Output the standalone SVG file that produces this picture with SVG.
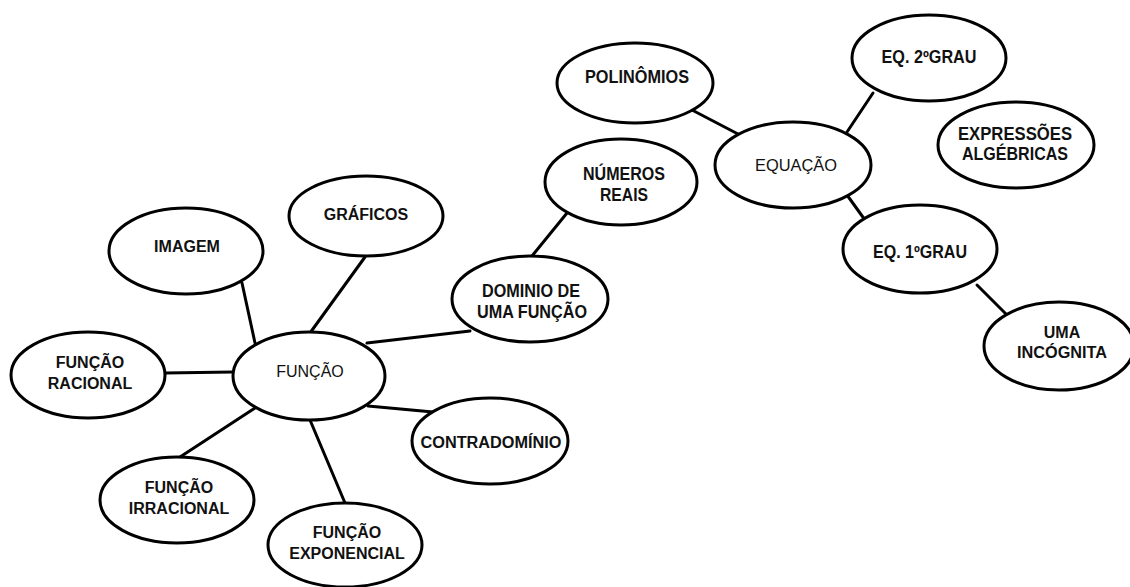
<svg xmlns="http://www.w3.org/2000/svg" width="1130" height="587" viewBox="0 0 1130 587">
  <style>
    .node ellipse { fill: #ffffff; stroke: #000000; stroke-width: 3; }
    .edges line { stroke: #000000; stroke-width: 3; stroke-linecap: round; }
    text { font-family: "Liberation Sans", Arial, sans-serif; font-size: 16px; fill: #111111; text-anchor: middle; dominant-baseline: central; }
    .b { font-weight: bold; }
    .n { font-weight: bold; font-size: 18px; }
  </style>
  <rect width="1130" height="587" fill="#ffffff"/>

  <!-- connectors -->
  <g class="edges">
    <line x1="255" y1="343" x2="242" y2="283"/>
    <line x1="310" y1="333" x2="365" y2="257"/>
    <line x1="165" y1="373" x2="233" y2="372"/>
    <line x1="255" y1="408" x2="180" y2="457"/>
    <line x1="310" y1="420" x2="345" y2="503"/>
    <line x1="368" y1="406" x2="433" y2="412"/>
    <line x1="367" y1="343" x2="470" y2="331"/>
    <line x1="532" y1="256" x2="567" y2="213"/>
    <line x1="692" y1="110" x2="738" y2="134"/>
    <line x1="847" y1="132" x2="873" y2="93"/>
    <line x1="847" y1="195" x2="865" y2="220"/>
    <line x1="977" y1="285" x2="1007" y2="315"/>
  </g>

  <!-- FUNÇÃO cluster -->
  <g id="graficos" class="node">
    <ellipse cx="366" cy="216" rx="77" ry="40"/>
    <text class="b" x="366" y="214">GRÁFICOS</text>
  </g>
  <g id="imagem" class="node">
    <ellipse cx="186" cy="251" rx="77" ry="43"/>
    <text class="b" x="187" y="246">IMAGEM</text>
  </g>
  <g id="funcao-racional" class="node">
    <ellipse cx="88" cy="375" rx="77" ry="43"/>
    <text class="b" x="90" y="362">FUNÇÃO</text>
    <text class="b" x="90" y="383">RACIONAL</text>
  </g>
  <g id="funcao" class="node">
    <ellipse cx="309" cy="376" rx="76" ry="44"/>
    <text x="310" y="371" font-size="17">FUNÇÃO</text>
  </g>
  <g id="funcao-irracional" class="node">
    <ellipse cx="177" cy="500" rx="77" ry="43"/>
    <text class="b" x="179" y="487">FUNÇÃO</text>
    <text class="b" x="179" y="508">IRRACIONAL</text>
  </g>
  <g id="funcao-exponencial" class="node">
    <ellipse cx="345" cy="545" rx="77" ry="42"/>
    <text class="b" x="347" y="532">FUNÇÃO</text>
    <text class="b" x="347" y="553">EXPONENCIAL</text>
  </g>
  <g id="contradominio" class="node">
    <ellipse cx="490" cy="441" rx="78" ry="43"/>
    <text class="b" x="491" y="442" textLength="141" lengthAdjust="spacingAndGlyphs">CONTRADOMÍNIO</text>
  </g>
  <g id="dominio" class="node">
    <ellipse cx="530" cy="299" rx="78" ry="43"/>
    <text class="n" x="531" y="291" textLength="98" lengthAdjust="spacingAndGlyphs">DOMINIO DE</text>
    <text class="n" x="532" y="312" textLength="110" lengthAdjust="spacingAndGlyphs">UMA FUNÇÃO</text>
  </g>

  <!-- EQUAÇÃO cluster -->
  <g id="numeros-reais" class="node">
    <ellipse cx="621" cy="182" rx="76" ry="43"/>
    <text class="n" x="624" y="174" textLength="82" lengthAdjust="spacingAndGlyphs">NÚMEROS</text>
    <text class="n" x="624" y="195" textLength="48" lengthAdjust="spacingAndGlyphs">REAIS</text>
  </g>
  <g id="polinomios" class="node">
    <ellipse cx="635" cy="83" rx="78" ry="40"/>
    <text class="n" x="637" y="77" textLength="104" lengthAdjust="spacingAndGlyphs">POLINÔMIOS</text>
  </g>
  <g id="equacao" class="node">
    <ellipse cx="793" cy="165" rx="78" ry="43"/>
    <text x="796" y="165" font-size="18" textLength="82" lengthAdjust="spacingAndGlyphs">EQUAÇÃO</text>
  </g>
  <g id="eq2" class="node">
    <ellipse cx="929" cy="58" rx="77" ry="43"/>
    <text class="n" x="929" y="57" textLength="95" lengthAdjust="spacingAndGlyphs">EQ. 2ºGRAU</text>
  </g>
  <g id="expressoes" class="node">
    <ellipse cx="1016" cy="145" rx="78" ry="43"/>
    <text class="n" x="1015" y="134" textLength="114" lengthAdjust="spacingAndGlyphs">EXPRESSÕES</text>
    <text class="n" x="1015" y="154" textLength="106" lengthAdjust="spacingAndGlyphs">ALGÉBRICAS</text>
  </g>
  <g id="eq1" class="node">
    <ellipse cx="920" cy="249" rx="77" ry="44"/>
    <text class="n" x="920" y="252" textLength="94" lengthAdjust="spacingAndGlyphs">EQ. 1ºGRAU</text>
  </g>
  <g id="incognita" class="node">
    <ellipse cx="1059" cy="346" rx="75" ry="44"/>
    <text class="b" x="1062" y="332">UMA</text>
    <text class="b" x="1062" y="352" textLength="90" lengthAdjust="spacingAndGlyphs">INCÓGNITA</text>
  </g>
</svg>
